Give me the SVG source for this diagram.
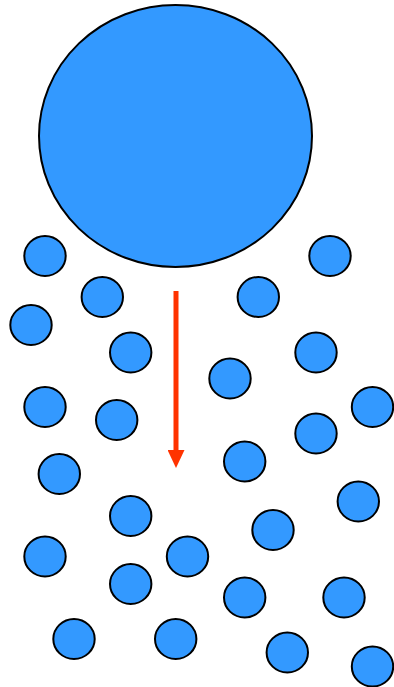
<svg xmlns="http://www.w3.org/2000/svg" width="394" height="687" viewBox="0 0 394 687">
<defs>
<style>
.b{fill:#3399FF;stroke:#000;stroke-width:2}
</style>
<marker id="ah" viewBox="0 0 18 17" refX="0" refY="8.5" markerWidth="3.6" markerHeight="3.4" markerUnits="strokeWidth" orient="auto">
<path d="M0,0 L18,8.5 L0,17 z" fill="#FF3300"/>
</marker>
</defs>
<rect width="394" height="687" fill="#fff"/>
<g id="big"><ellipse class="b" cx="175.5" cy="136" rx="136.5" ry="131"/></g>
<g id="small">
<ellipse id="s1" class="b" cx="45" cy="256" rx="20.7" ry="20"/>
<ellipse id="s2" class="b" cx="102.3" cy="297" rx="20.7" ry="20"/>
<ellipse id="s3" class="b" cx="31" cy="325" rx="20.7" ry="20"/>
<ellipse id="s4" class="b" cx="130.7" cy="352.5" rx="20.7" ry="20"/>
<ellipse id="s5" class="b" cx="45" cy="407" rx="20.7" ry="20"/>
<ellipse id="s6" class="b" cx="116.7" cy="420" rx="20.7" ry="20"/>
<ellipse id="s7" class="b" cx="59.3" cy="474" rx="20.7" ry="20"/>
<ellipse id="s8" class="b" cx="130.7" cy="516" rx="20.7" ry="20"/>
<ellipse id="s9" class="b" cx="45" cy="556.5" rx="20.7" ry="20"/>
<ellipse id="s10" class="b" cx="187.5" cy="556.5" rx="20.7" ry="20"/>
<ellipse id="s11" class="b" cx="130.7" cy="584" rx="20.7" ry="20"/>
<ellipse id="s12" class="b" cx="74" cy="639" rx="20.7" ry="20"/>
<ellipse id="s13" class="b" cx="175.7" cy="639" rx="20.7" ry="20"/>
<ellipse id="s14" class="b" cx="330" cy="256" rx="20.7" ry="20"/>
<ellipse id="s15" class="b" cx="258.3" cy="297" rx="20.7" ry="20"/>
<ellipse id="s16" class="b" cx="316" cy="352.5" rx="20.7" ry="20"/>
<ellipse id="s17" class="b" cx="230" cy="378.5" rx="20.7" ry="20"/>
<ellipse id="s18" class="b" cx="372.5" cy="407" rx="20.7" ry="20"/>
<ellipse id="s19" class="b" cx="316" cy="433.5" rx="20.7" ry="20"/>
<ellipse id="s20" class="b" cx="244.7" cy="461.5" rx="20.7" ry="20"/>
<ellipse id="s21" class="b" cx="358.3" cy="501.5" rx="20.7" ry="20"/>
<ellipse id="s22" class="b" cx="273" cy="530" rx="20.7" ry="20"/>
<ellipse id="s23" class="b" cx="244.7" cy="597.5" rx="20.7" ry="20"/>
<ellipse id="s24" class="b" cx="344" cy="597.5" rx="20.7" ry="20"/>
<ellipse id="s25" class="b" cx="287.3" cy="652.5" rx="20.7" ry="20"/>
<ellipse id="s26" class="b" cx="372.5" cy="666.5" rx="20.7" ry="20"/>
</g>
<g id="connectors">
<line x1="176" y1="291" x2="176" y2="450" stroke="#FF3300" stroke-width="5" marker-end="url(#ah)"/>
</g>
</svg>
